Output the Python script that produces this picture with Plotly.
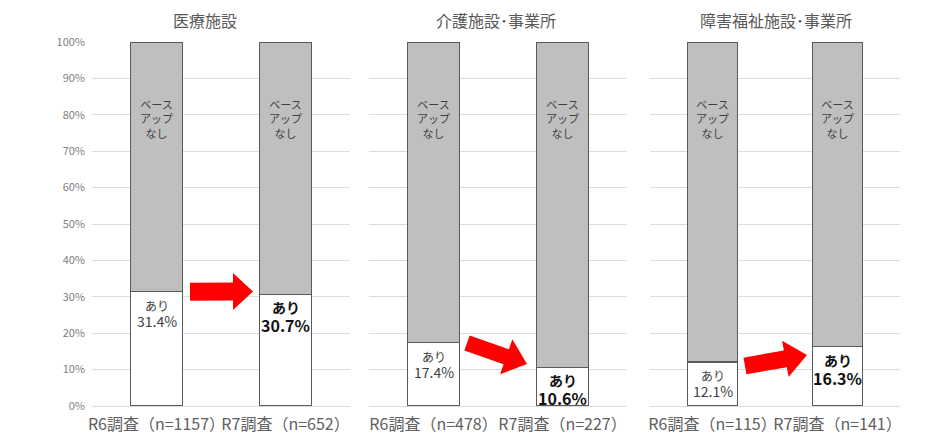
import math
import plotly.graph_objects as go

panel_titles = ["医療施設", "介護施設･事業所", "障害福祉施設･事業所"]
categories = [
    ["R6調査（n=1157）", "R7調査（n=652）"],
    ["R6調査（n=478）", "R7調査（n=227）"],
    ["R6調査（n=115）", "R7調査（n=141）"],
]
ari_values = [[31.4, 30.7], [17.4, 10.6], [12.1, 16.3]]
nashi_values = [[68.6, 69.3], [82.6, 89.4], [87.9, 83.7]]
ari_label = "あり"
nashi_label = "ベース<br>アップ<br>なし"
y_ticks = [0, 10, 20, 30, 40, 50, 60, 70, 80, 90, 100]
y_ticklabels = [f"{v}%" for v in y_ticks]

OFF = 8  # page body margin
W, H = 940 - OFF, 448 - OFF
FONT = "Noto Sans CJK JP"
panel_px = [(92, 350), (369, 627), (650, 900)]
title_px = [205, 496, 776]
plot_top, plot_bottom = 42, 406


def px_x(s):
    return (s - OFF) / W


def px_y(s):
    return 1 - (s - OFF) / H


fig = go.Figure()
layout = dict(
    width=W, height=H, margin=dict(l=0, r=0, t=0, b=0, autoexpand=False),
    paper_bgcolor="white", plot_bgcolor="white",
    barmode="stack", showlegend=False, font=dict(family=FONT),
)

ydom = [px_y(plot_bottom), px_y(plot_top)]
annotations = []
shapes = []

for i in range(3):
    sfx = "" if i == 0 else str(i + 1)
    xa, ya = "x" + sfx, "y" + sfx
    fig.add_trace(go.Bar(
        x=categories[i], y=ari_values[i], xaxis=xa, yaxis=ya, width=0.4,
        marker=dict(color="white", line=dict(color="#5a5a5a", width=1.3)),
        hoverinfo="skip"))
    fig.add_trace(go.Bar(
        x=categories[i], y=nashi_values[i], xaxis=xa, yaxis=ya, width=0.4,
        marker=dict(color="#bfbfbf", line=dict(color="#5a5a5a", width=1.3)),
        hoverinfo="skip"))
    l, r = panel_px[i]
    layout["xaxis" + sfx] = dict(
        domain=[px_x(l), px_x(r)], anchor=ya, type="category", automargin=False,
        range=[-0.5, 1.5], showgrid=False, showline=False, ticks="",
        tickangle=0, ticklabelstandoff=7,
        tickfont=dict(size=16, color="#606060", family=FONT))
    layout["yaxis" + sfx] = dict(
        domain=ydom, anchor=xa, range=[0, 100], automargin=False,
        tickvals=y_ticks, ticktext=y_ticklabels, showticklabels=(i == 0),
        showgrid=True, gridcolor="#dcdcdc", gridwidth=1,
        zeroline=True, zerolinecolor="#dcdcdc", zerolinewidth=1,
        showline=False, ticks="", ticklabelstandoff=6,
        tickfont=dict(size=11, color="#808080", family=FONT))
    annotations.append(dict(
        text=panel_titles[i], xref="paper", yref="paper",
        x=px_x(title_px[i]), y=px_y(20), xanchor="center", yanchor="middle",
        showarrow=False, font=dict(size=16, color="#595959", family=FONT)))
    for j in range(2):
        annotations.append(dict(
            text=nashi_label, xref=xa, yref=ya, x=categories[i][j], y=79,
            showarrow=False, xanchor="center", yanchor="middle",
            font=dict(size=11, color="#404040", family=FONT)))
        if j == 0:
            t1, t2 = ari_label, f"{ari_values[i][j]:.1f}%"
            f1 = dict(size=12, color="#404040", family=FONT)
            f2 = dict(size=14, color="#404040", family=FONT)
            s1, s2 = -14, -29
        else:
            t1, t2 = f"<b>{ari_label}</b>", f"<b>{ari_values[i][j]:.1f}%</b>"
            f1 = dict(size=14, color="#111111", family=FONT)
            f2 = dict(size=16, color="#111111", family=FONT)
            s1, s2 = -13, -31
        for t, f, s in ((t1, f1, s1), (t2, f2, s2)):
            annotations.append(dict(
                text=t, xref=xa, yref=ya, x=categories[i][j], y=ari_values[i][j],
                showarrow=False, xanchor="center", yanchor="middle", yshift=s,
                font=f))


def block_arrow(tail, tip, body_w, head_w, head_len):
    (x0, y0), (x1, y1) = tail, tip
    dx, dy = x1 - x0, y1 - y0
    L = math.hypot(dx, dy)
    ux, uy = dx / L, dy / L
    px, py = -uy, ux
    hx, hy = x1 - ux * head_len, y1 - uy * head_len
    pts = [
        (x0 + px * body_w / 2, y0 + py * body_w / 2),
        (hx + px * body_w / 2, hy + py * body_w / 2),
        (hx + px * head_w / 2, hy + py * head_w / 2),
        (x1, y1),
        (hx - px * head_w / 2, hy - py * head_w / 2),
        (hx - px * body_w / 2, hy - py * body_w / 2),
        (x0 - px * body_w / 2, y0 - py * body_w / 2),
    ]
    path = "M " + " L ".join(f"{px_x(x):.5f},{px_y(y):.5f}" for x, y in pts) + " Z"
    return dict(type="path", xref="paper", yref="paper", path=path,
                fillcolor="#ff0000", line=dict(width=0), layer="above")


shapes.append(block_arrow((190, 291.7), (253, 291.5), 18, 37, 20))
shapes.append(block_arrow((467, 343), (527, 364), 16, 37, 22))
shapes.append(block_arrow((745, 366), (807, 355), 17, 37, 22))

layout["annotations"] = annotations
layout["shapes"] = shapes
fig.update_layout(**layout)
fig.write_html("out.html")
